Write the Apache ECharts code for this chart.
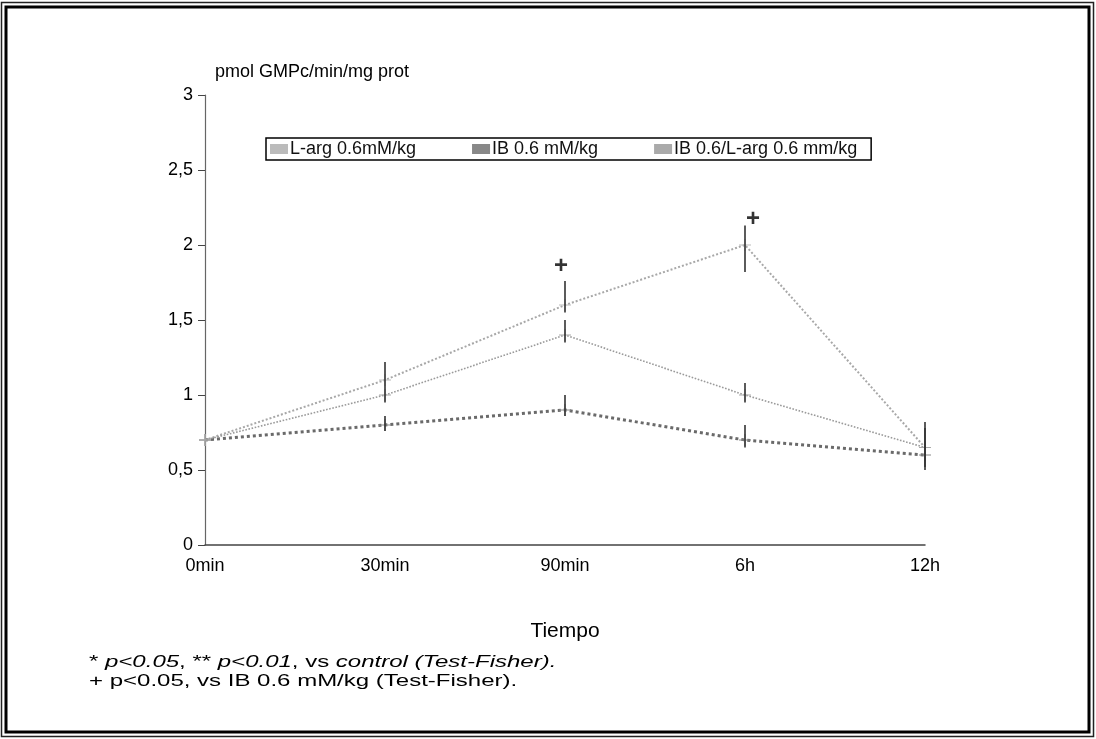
<!DOCTYPE html>
<html>
<head>
<meta charset="utf-8">
<script src="https://cdn.jsdelivr.net/npm/echarts@6/dist/echarts.min.js"></script>
<style>
html,body{margin:0;padding:0;background:#fff;}
#chart{width:1096px;height:739px;}
</style>
</head>
<body>
<div id="chart"></div>
<script>
const categories = ['0min', '30min', '90min', '6h', '12h'];
const seriesNames = ['L-arg 0.6mM/kg', 'IB 0.6 mM/kg', 'IB 0.6/L-arg 0.6 mm/kg'];
const largValues = [0.7, 1.1, 1.6, 2.0, 0.65];
const ibValues = [0.7, 0.8, 0.9, 0.7, 0.6];
const comboValues = [0.7, 1.0, 1.4, 1.0, 0.65];
// error bars [categoryIndex, low, high]
const largErr = [[1, 1.08, 1.22], [2, 1.55, 1.76], [3, 1.82, 2.13], [4, 0.5, 0.82]];
const ibErr = [[1, 0.76, 0.86], [2, 0.86, 1.0], [3, 0.65, 0.8], [4, 0.52, 0.78]];
const comboErr = [[1, 0.95, 1.08], [2, 1.35, 1.5], [3, 0.95, 1.08]];
const sigMarks = [[2, 1.86], [3, 2.17]];

const chart = echarts.init(document.getElementById('chart'));
const errSeries = (data, color) => ({
  type: 'custom',
  data: data,
  z: 5,
  silent: true,
  renderItem: function (params, api) {
    const p1 = api.coord([api.value(0), api.value(1)]);
    const p2 = api.coord([api.value(0), api.value(2)]);
    return { type: 'line', shape: { x1: p1[0], y1: p1[1], x2: p2[0], y2: p2[1] },
      style: { stroke: color, lineWidth: 1.6 } };
  }
});
const font = 'Liberation Sans, Arial, sans-serif';
const crossPath = 'path://M0,5L10,5M5,0L5,10';
chart.setOption({
  animation: false,
  backgroundColor: '#fff',
  grid: { left: 205, right: 171, top: 95, bottom: 194 },
  legend: {
    top: 138, left: 266,
    itemGap: 56,
    itemWidth: 16, itemHeight: 8,
    padding: [2, 14, 2, 4],
    borderColor: '#000', borderWidth: 1.5,
    textStyle: { fontFamily: font, fontSize: 18, color: '#111', padding: [0, 0, 0, -2] },
    data: seriesNames.map(n => ({ name: n, icon: 'rect' }))
  },
  xAxis: {
    type: 'category', data: categories, boundaryGap: false,
    axisLine: { lineStyle: { color: '#444', width: 1.5 } },
    axisTick: { show: false },
    axisLabel: { fontFamily: font, fontSize: 18, color: '#000', margin: 12 },
    name: 'Tiempo', nameLocation: 'middle', nameGap: 76,
    nameTextStyle: { fontFamily: font, fontSize: 21, color: '#000' }
  },
  yAxis: {
    type: 'value', min: 0, max: 3, interval: 0.5,
    splitLine: { show: false },
    axisLine: { show: true, lineStyle: { color: '#666', width: 1.2 } },
    axisTick: { show: true, length: 7, lineStyle: { color: '#444' } },
    axisLabel: { fontFamily: font, fontSize: 18, color: '#000', margin: 12,
      formatter: v => String(v).replace('.', ',') },
    name: 'pmol GMPc/min/mg prot', nameLocation: 'end', nameGap: 14,
    nameTextStyle: { fontFamily: font, fontSize: 18, color: '#000', align: 'left', padding: [0, 0, 0, 10] }
  },
  series: [
    { name: seriesNames[0], type: 'line', data: largValues, symbol: crossPath, symbolSize: 12,
      color: '#b0b0b0', lineStyle: { type: 'dotted', width: 2, color: '#a8a8a8' },
      itemStyle: { color: '#bbb', borderColor: '#bbb', borderWidth: 1 } },
    { name: seriesNames[1], type: 'line', data: ibValues, symbol: crossPath, symbolSize: 12,
      color: '#6a6a6a', lineStyle: { type: 'dotted', width: 3, color: '#6a6a6a' },
      itemStyle: { color: '#888', borderColor: '#888', borderWidth: 1 } },
    { name: seriesNames[2], type: 'line', data: comboValues, symbol: crossPath, symbolSize: 12,
      color: '#9a9a9a', lineStyle: { type: 'dotted', width: 1.6, color: '#9a9a9a' },
      itemStyle: { color: '#aaa', borderColor: '#aaa', borderWidth: 1 } },
    errSeries(largErr, '#333'),
    errSeries(ibErr, '#333'),
    errSeries(comboErr, '#333'),
    { type: 'scatter', symbolSize: 0, silent: true, z: 6,
      data: [
        { value: sigMarks[0], label: { offset: [-4, 0] } },
        { value: sigMarks[1], label: { offset: [8, 0] } }
      ],
      label: { show: true, formatter: '+', position: 'inside',
        fontFamily: font, fontSize: 24, fontWeight: 'bold', color: '#000' } }
  ],
  graphic: [
    { type: 'rect', shape: { x: 1.5, y: 2.5, width: 1092, height: 734 }, style: { fill: null, stroke: '#222', lineWidth: 1.5 }, silent: true },
    { type: 'rect', shape: { x: 6, y: 7, width: 1083, height: 725 }, style: { fill: null, stroke: '#000', lineWidth: 3 }, silent: true },
    { type: 'text', x: 89, y: 655, scaleX: 1.5, style: {
      text: '{n|* }{i|p<0.05}{n|, ** }{i|p<0.01}{n|, vs }{i|control (Test-Fisher).}',
      rich: { n: { fontFamily: font, fontSize: 16, fill: '#000' }, i: { fontFamily: font, fontSize: 16, fontStyle: 'italic', fill: '#000' } } } },
    { type: 'text', x: 89, y: 674, scaleX: 1.5, style: {
      text: '+ p<0.05, vs IB 0.6 mM/kg (Test-Fisher).', fontFamily: font, fontSize: 16, fill: '#000' } }
  ]
});
</script>
</body>
</html>
